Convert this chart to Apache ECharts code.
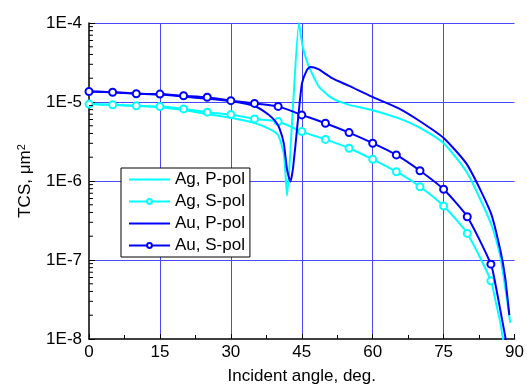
<!DOCTYPE html>
<html><head><meta charset="utf-8">
<script src="https://cdn.jsdelivr.net/npm/echarts@6/dist/echarts.min.js"></script>
<style>html,body{margin:0;padding:0;background:#fff}#c{width:527px;height:390px}</style>
</head><body><div id="c"></div>
<script>
const seriesNames = ['Ag, P-pol', 'Ag, S-pol', 'Au, P-pol', 'Au, S-pol'];
const yTickLabels = ['1E-8', '1E-7', '1E-6', '1E-5', '1E-4'];
const yMinorTicks = [2e-8,3e-8,4e-8,5e-8,6e-8,7e-8,8e-8,9e-8,
                     2e-7,3e-7,4e-7,5e-7,6e-7,7e-7,8e-7,9e-7,
                     2e-6,3e-6,4e-6,5e-6,6e-6,7e-6,8e-6,9e-6,
                     2e-5,3e-5,4e-5,5e-5,6e-5,7e-5,8e-5,9e-5];

const sAngles = [0,5,10,15,20,25,30,35,40,45,50,55,60,65,70,75,80,85];
const agS = [9.4e-6,9.2e-6,8.94e-6,8.75e-6,8.18e-6,7.43e-6,6.93e-6,6.11e-6,5.65e-6,4.22e-6,3.36e-6,2.60e-6,1.88e-6,1.31e-6,8.47e-7,4.82e-7,2.17e-7,5.45e-8];
const auS = [1.36e-5,1.33e-5,1.27e-5,1.26e-5,1.20e-5,1.15e-5,1.04e-5,9.6e-6,8.8e-6,6.87e-6,5.39e-6,4.10e-6,3.01e-6,2.14e-6,1.35e-6,7.85e-7,3.53e-7,8.85e-8];
const agSTailAngles = [86, 87, 87.8];
const agSTail = [3.0e-8, 1.6e-8, 8e-9];
const auSTailAngles = [86, 87, 88, 88.4];
const auSTail = [4.8e-8, 2.3e-8, 1.1e-8, 8e-9];

const agPAngles = [0,5,10,15,20,25,30,35,38,40,41.2,41.9,43.1,44.4,44.8,45.2,45.8,46.5,48.6,51.4,55,59.8,65.4,70,75,80,85,87,88,89.1];
const agP = [9.4e-6,9.2e-6,8.9e-6,8.6e-6,7.9e-6,7.0e-6,6.3e-6,5.4e-6,4.6e-6,3.8e-6,2.2e-6,6.5e-7,8e-6,1e-4,7e-5,5e-5,3.7e-5,2.8e-5,1.57e-5,1.12e-5,9.2e-6,7.94e-6,6.24e-6,4.7e-6,3.0e-6,1.26e-6,2.9e-7,1.1e-7,4.6e-8,1.6e-8];
const auPAngles = [0,5,10,15,20,25,30,35,38,39.5,40.3,41.2,41.9,42.6,43.1,43.7,44.4,45.05,46.1,46.8,48.5,51.4,55,59.8,65.4,70,75,80,85,87,88,88.9];
const auP = [1.36e-5,1.33e-5,1.28e-5,1.24e-5,1.17e-5,1.1e-5,1.02e-5,8.9e-6,6.9e-6,5.6e-6,4.6e-6,3.0e-6,1.38e-6,9.8e-7,1.38e-6,3.0e-6,7.9e-6,1.73e-5,2.55e-5,2.77e-5,2.6e-5,2.0e-5,1.6e-5,1.17e-5,8.36e-6,5.7e-6,3.5e-6,1.6e-6,3.93e-7,1.33e-7,6.1e-8,2.0e-8];

const CYAN = '#00FFFF', BLUE = '#0000FF', GRIDC = '#4848FF';
const FONT = 'Arial, "Liberation Sans", sans-serif';

function pairs(xs, ys) { return xs.map((x, i) => [x, ys[i]]); }
function withTail(xs, ys, tx, ty) {
  return pairs(xs, ys).concat(tx.map((x, i) => ({ value: [x, ty[i]], symbol: 'none' })));
}

const chart = echarts.init(document.getElementById('c'), null, { renderer: 'canvas' });
chart.setOption({
  animation: false,
  backgroundColor: '#fff',
  grid: { left: 89, right: 10, top: 23, bottom: 51 },
  textStyle: { fontFamily: FONT },
  legend: {
    orient: 'vertical', left: 121, top: 168,
    data: seriesNames,
    backgroundColor: '#fff', borderColor: '#000', borderWidth: 1, borderRadius: 0,
    padding: [3, 5, 3, 7], itemWidth: 41, itemHeight: 6, itemGap: 5,
    textStyle: { fontSize: 17, color: '#000', fontFamily: FONT }
  },
  xAxis: {
    type: 'value', min: 0, max: 90, interval: 15,
    name: 'Incident angle, deg.', nameLocation: 'middle', nameGap: 29,
    nameTextStyle: { fontSize: 17, color: '#000', fontFamily: FONT },
    axisLine: { show: true, onZero: false, lineStyle: { color: '#000', width: 1.5 } },
    axisTick: { show: true, inside: true, length: 5, lineStyle: { color: '#000' } },
    minorTick: { show: true, splitNumber: 2, length: 4, lineStyle: { color: '#000' } },
    axisLabel: { fontSize: 17, color: '#000', margin: 5, fontFamily: FONT },
    splitLine: { show: true, showMinLine: false, showMaxLine: false, lineStyle: { color: GRIDC, width: 1 } }
  },
  yAxis: {
    type: 'log', logBase: 10, min: 1e-8, max: 1e-4,
    name: 'TCS, μm{sup|2}', nameLocation: 'middle', nameGap: 54,
    nameTextStyle: { fontSize: 17, color: '#000', fontFamily: FONT,
      rich: { sup: { fontSize: 11, color: '#000', verticalAlign: 'top', fontFamily: FONT, padding: [0, 0, 8, 0] } } },
    axisLine: { show: true, lineStyle: { color: '#000', width: 1.5 } },
    axisTick: { show: true, inside: true, length: 6, lineStyle: { color: '#000' } },
    axisLabel: { fontSize: 17, color: '#000', margin: 7, fontFamily: FONT,
      formatter: v => yTickLabels[Math.round(Math.log10(v)) + 8] },
    splitLine: { show: true, showMinLine: false, showMaxLine: false, lineStyle: { color: GRIDC, width: 1 } }
  },
  series: [
    { name: 'Ag, P-pol', type: 'line', data: pairs(agPAngles, agP), symbol: 'none', smooth: 0.2,
      lineStyle: { color: CYAN, width: 2 }, itemStyle: { color: 'rgba(0,0,0,0)', borderWidth: 0 }, z: 2 },
    { name: 'Ag, S-pol', type: 'line', data: withTail(sAngles, agS, agSTailAngles, agSTail),
      symbol: 'circle', symbolSize: 7, showSymbol: true, showAllSymbol: true, smooth: 0.2,
      lineStyle: { color: CYAN, width: 2 }, itemStyle: { color: '#fff', borderColor: CYAN, borderWidth: 2 }, z: 3 },
    { name: 'Au, P-pol', type: 'line', data: pairs(auPAngles, auP), symbol: 'none', smooth: 0.2,
      lineStyle: { color: BLUE, width: 2 }, itemStyle: { color: 'rgba(0,0,0,0)', borderWidth: 0 }, z: 4 },
    { name: 'Au, S-pol', type: 'line', data: withTail(sAngles, auS, auSTailAngles, auSTail),
      symbol: 'circle', symbolSize: 7, showSymbol: true, showAllSymbol: true, smooth: 0.2,
      lineStyle: { color: BLUE, width: 2 }, itemStyle: { color: '#fff', borderColor: BLUE, borderWidth: 2 }, z: 5 },
    { name: 'minorTicks', type: 'custom', silent: true, clip: false, z: 6,
      data: yMinorTicks.map(v => [0, v]),
      renderItem: (params, api) => {
        const p = api.coord([api.value(0), api.value(1)]);
        return { type: 'line', shape: { x1: p[0], y1: p[1], x2: p[0] + 4, y2: p[1] },
                 style: { stroke: '#000', lineWidth: 1 } };
      } }
  ]
});
</script></body></html>
